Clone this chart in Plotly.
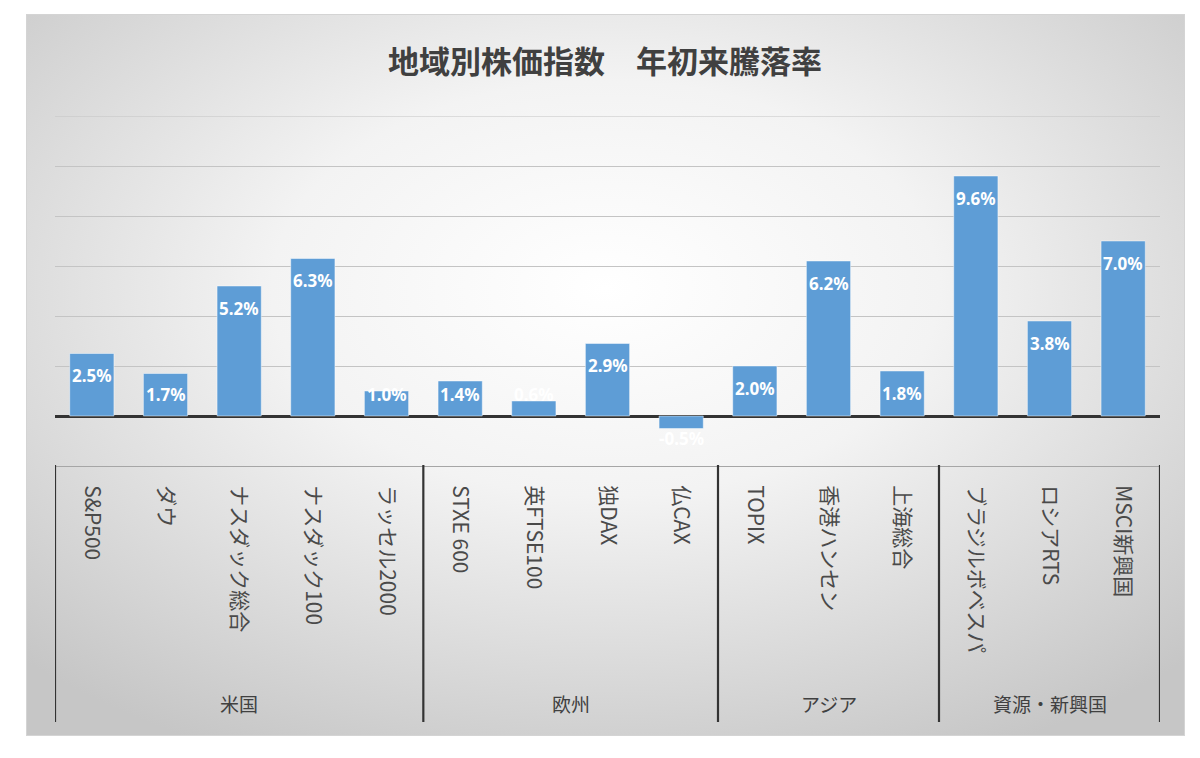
import base64
import plotly.graph_objects as go

# ---- data ----
categories = ["S&P500", "ダウ", "ナスダック総合", "ナスダック100", "ラッセル2000",
              "STXE 600", "英FTSE100", "独DAX", "仏CAX",
              "TOPIX", "香港ハンセン", "上海総合",
              "ブラジルボベスパ", "ロシアRTS", "MSCI新興国"]
values = [2.5, 1.7, 5.2, 6.3, 1.0,
          1.4, 0.6, 2.9, -0.5,
          2.0, 6.2, 1.8,
          9.6, 3.8, 7.0]
groups = ["米国", "欧州", "アジア", "資源・新興国"]
group_sizes = [5, 4, 3, 3]
title_text = "地域別株価指数　年初来騰落率"

# ---- layout geometry (pixels) ----
W, H = 1200, 758
L, R, T, B = 55, 40, 116, 292
plot_w = W - L - R
plot_h = H - T - B
ymin, ymax = -2, 12

x_idx = list(range(len(categories)))

fig = go.Figure()
fig.add_trace(go.Bar(
    x=x_idx, y=values,
    marker=dict(color="#5e9dd6", line=dict(color="rgba(255,255,255,0.45)", width=1)),
    width=0.6,
    hoverinfo="skip",
))

# data labels
label_off = 0.88
annotations = []
for i, v in enumerate(values):
    if v >= 0:
        ly = max(v - label_off, label_off)
    else:
        ly = -label_off
    annotations.append(dict(
        x=i, y=ly, xref="x", yref="y", text=f"{v:.1f}%", showarrow=False,
        font=dict(family="Liberation Sans Narrow, Noto Sans, sans-serif", size=17,
                  color="white", weight="bold"),
        xanchor="center", yanchor="middle"))

# group separators and labels
shapes = []
sep_bottom = -(722 - (H - B)) / plot_h
start = -0.5
shapes.append(dict(type="line", xref="x", yref="paper", x0=start, x1=start,
                   y0=0.003, y1=sep_bottom, line=dict(color="#333333", width=2.2)))
for g, n in zip(groups, group_sizes):
    end = start + n
    shapes.append(dict(type="line", xref="x", yref="paper", x0=end, x1=end,
                       y0=0.003, y1=sep_bottom, line=dict(color="#333333", width=2.2)))
    annotations.append(dict(
        x=(start + end) / 2, y=-(703 - (H - B)) / plot_h, xref="x", yref="paper",
        text=g, showarrow=False, xanchor="center", yanchor="middle",
        font=dict(family="Noto Sans CJK JP", size=19, color="#404040")))
    start = end

# top gridline at the range edge
shapes.append(dict(type="line", xref="paper", yref="y", x0=0, x1=1, y0=ymax, y1=ymax,
                   line=dict(color="#c4c4c4", width=1), layer="below"))

# chart-area background with radial gradient
cx0, cy0, cx1, cy1 = 26, 14, 1185, 736
svg = f'''<svg xmlns="http://www.w3.org/2000/svg" width="{cx1-cx0}" height="{cy1-cy0}">
<defs><radialGradient id="g" cx="50%" cy="38%" r="72%">
<stop offset="0%" stop-color="#ffffff"/>
<stop offset="40%" stop-color="#f3f3f3"/>
<stop offset="100%" stop-color="#c6c6c6"/>
</radialGradient></defs>
<rect x="0.5" y="0.5" width="{cx1-cx0-1}" height="{cy1-cy0-1}" fill="url(#g)" stroke="#d4d4d4" stroke-width="1"/>
</svg>'''
src = "data:image/svg+xml;base64," + base64.b64encode(svg.encode()).decode()

fig.update_layout(
    width=W, height=H,
    margin=dict(l=L, r=R, t=T, b=B, pad=0),
    paper_bgcolor="white", plot_bgcolor="rgba(0,0,0,0)",
    showlegend=False,
    bargap=0.4,
    images=[dict(source=src, xref="paper", yref="paper",
                 x=(cx0 - L) / plot_w, y=((H - B) - cy0) / plot_h,
                 sizex=(cx1 - cx0) / plot_w, sizey=(cy1 - cy0) / plot_h,
                 xanchor="left", yanchor="top", sizing="stretch", layer="below")],
    title=dict(text=title_text, x=605 / W, xanchor="center",
               y=1 - 62 / H, yanchor="middle",
               font=dict(family="Noto Sans CJK JP", size=31, color="#404040", weight="bold")),
    annotations=annotations,
    shapes=shapes,
    xaxis=dict(
        range=[-0.5, len(categories) - 0.5],
        tickmode="array", tickvals=x_idx, ticktext=categories,
        tickangle=90, ticks="", ticklabelstandoff=14,
        tickfont=dict(family="Noto Sans CJK JP", size=21, color="#4a4a4a"),
        showgrid=False, zeroline=False,
        showline=True, linecolor="#a6a6a6", linewidth=1,
        fixedrange=True,
    ),
    yaxis=dict(
        range=[ymin, ymax], dtick=2, tick0=0,
        showticklabels=False, ticks="",
        showgrid=True, gridcolor="#c4c4c4", gridwidth=1,
        zeroline=True, zerolinecolor="#333333", zerolinewidth=2.5,
        showline=False, fixedrange=True,
    ),
)

fig.write_html("out.html")
